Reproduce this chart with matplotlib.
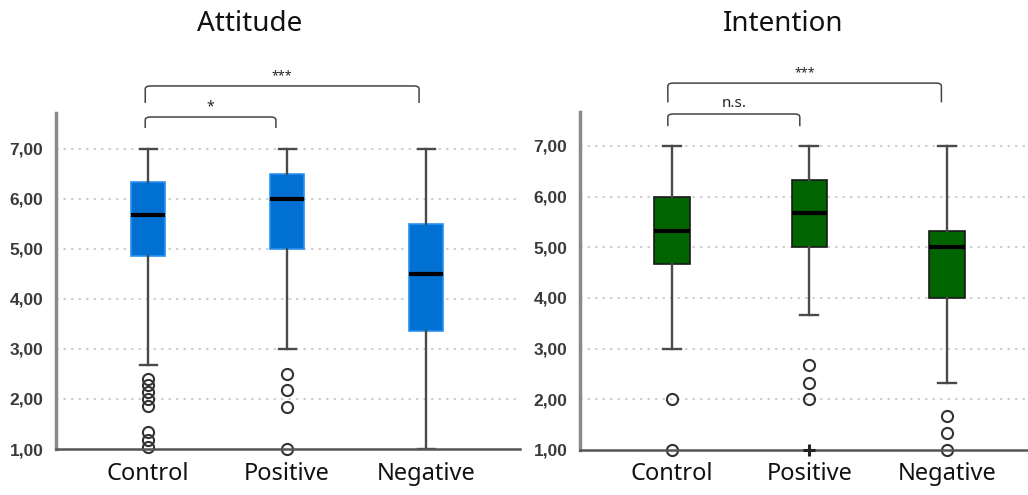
import matplotlib
matplotlib.use("Agg")
import matplotlib.pyplot as plt
from matplotlib.path import Path
from matplotlib.patches import PathPatch

plt.rcParams['font.family'] = ['Noto Sans', 'DejaVu Sans']

categories = ["Control", "Positive", "Negative"]
ytick_values = [1, 2, 3, 4, 5, 6, 7]
ytick_labels = ["1,00", "2,00", "3,00", "4,00", "5,00", "6,00", "7,00"]

# Attitude
att_whislo = [2.67, 3.0, 1.0]
att_q1 = [4.85, 5.0, 3.35]
att_med = [5.67, 6.0, 4.5]
att_q3 = [6.33, 6.5, 5.5]
att_whishi = [7.0, 7.0, 7.0]
att_fliers = [[2.4, 2.27, 2.13, 2.0, 1.85, 1.33, 1.17, 1.03],
              [2.5, 2.17, 1.83, 1.0],
              []]
att_extremes = [[], [], []]

# Intention
int_whislo = [3.0, 3.67, 2.33]
int_q1 = [4.67, 5.0, 4.0]
int_med = [5.33, 5.67, 5.0]
int_q3 = [6.0, 6.33, 5.33]
int_whishi = [7.0, 7.0, 7.0]
int_fliers = [[2.0, 1.0],
              [2.67, 2.33, 2.0],
              [1.67, 1.33, 1.0]]
int_extremes = [[], [1.0], []]

W, H = 1028, 495
fig = plt.figure(figsize=(W / 100, H / 100), dpi=100)


def px_axes(x0, y0, x1, y1):
    return fig.add_axes([x0 / W, 1 - y1 / H, (x1 - x0) / W, (y1 - y0) / H])


def draw_panel(ax, title, whislo, q1, med, q3, whishi, fliers, extremes,
               face, edge, width, xlim, ytop):
    stats = []
    for i in range(len(categories)):
        stats.append(dict(med=med[i], q1=q1[i], q3=q3[i], whislo=whislo[i],
                          whishi=whishi[i], fliers=fliers[i], label=categories[i]))
    pos = list(range(1, len(categories) + 1))
    ax.bxp(stats, positions=pos, widths=width, patch_artist=True,
           showfliers=True, capwidths=width * 0.5,
           boxprops=dict(facecolor=face, edgecolor=edge, linewidth=1.2),
           medianprops=dict(color='black', linewidth=3, solid_capstyle='butt'),
           whiskerprops=dict(color='#4a4a4a', linewidth=1.7),
           capprops=dict(color='#4a4a4a', linewidth=1.7),
           flierprops=dict(marker='o', markerfacecolor='none',
                           markeredgecolor='#333333', markersize=8,
                           markeredgewidth=1.5, clip_on=False))
    for i, ext in enumerate(extremes):
        if ext:
            ax.plot([pos[i]] * len(ext), ext, linestyle='none', marker='+',
                    color='#222222', markersize=9, markeredgewidth=2.2,
                    clip_on=False, zorder=5)
    ax.set_xlim(*xlim)
    ax.set_ylim(1, ytop)
    ax.set_yticks(ytick_values)
    ax.set_yticklabels(ytick_labels, fontsize=12.5, color='#3a3a3a',
                       fontweight='bold', family=['Liberation Sans', 'DejaVu Sans'])
    ax.set_xticks(pos)
    ax.set_xticklabels(categories, fontsize=17, color='#111111')
    ax.tick_params(axis='y', length=0, pad=9)
    ax.tick_params(axis='x', length=0, pad=9)
    for s in ['top', 'right']:
        ax.spines[s].set_visible(False)
    ax.spines['left'].set_color('#8a8a8a')
    ax.spines['left'].set_linewidth(2.5)
    ax.spines['bottom'].set_color('#555555')
    ax.spines['bottom'].set_linewidth(1.8)
    for y in ytick_values[1:]:
        ax.axhline(y, color='#c8c8c8', linestyle=(0, (1.5, 3)), linewidth=1.2,
                   zorder=0)
    ax.set_axisbelow(True)


def bracket(ax, x0, x1, ytop, ybot, text, ty, fs):
    r = 0.06
    verts = [(x0, ybot), (x0, ytop - r), (x0, ytop), (x0 + r * 0.6, ytop),
             (x1 - r * 0.6, ytop), (x1, ytop), (x1, ytop - r), (x1, ybot)]
    codes = [Path.MOVETO, Path.LINETO, Path.CURVE3, Path.CURVE3,
             Path.LINETO, Path.CURVE3, Path.CURVE3, Path.LINETO]
    ax.add_patch(PathPatch(Path(verts, codes), facecolor='none',
                           edgecolor='#444444', linewidth=1.1, clip_on=False))
    ax.text((x0 + x1) / 2, ty, text, ha='center', va='center', fontsize=fs,
            color='#222222', clip_on=False)


ax1 = px_axes(56, 113, 520, 449)
draw_panel(ax1, "Attitude", att_whislo, att_q1, att_med, att_q3, att_whishi,
           att_fliers, att_extremes, '#0070d2', '#2a90f0', 0.245,
           (0.338, 3.676), 7.71)
ax2 = px_axes(580, 112, 1028, 450)
draw_panel(ax2, "Intention", int_whislo, int_q1, int_med, int_q3, int_whishi,
           int_fliers, int_extremes, '#006400', '#1a1a1a', 0.26,
           (0.331, 3.59), 7.67)

bracket(ax1, 0.98, 2.95, 8.25, 7.91, "***", 8.45, 9)
bracket(ax1, 0.98, 1.92, 7.63, 7.41, "*", 7.84, 10)
bracket(ax2, 0.97, 2.96, 8.24, 7.86, "***", 8.44, 9)
bracket(ax2, 0.97, 1.93, 7.63, 7.39, "n.s.", 7.83, 11)

fig.text(250 / W, 1 - 24 / H, "Attitude", ha='center', va='center',
         fontsize=20, color='#111111')
fig.text(783 / W, 1 - 24 / H, "Intention", ha='center', va='center',
         fontsize=20, color='#111111')

fig.savefig("out.png", dpi=100, facecolor='white')
